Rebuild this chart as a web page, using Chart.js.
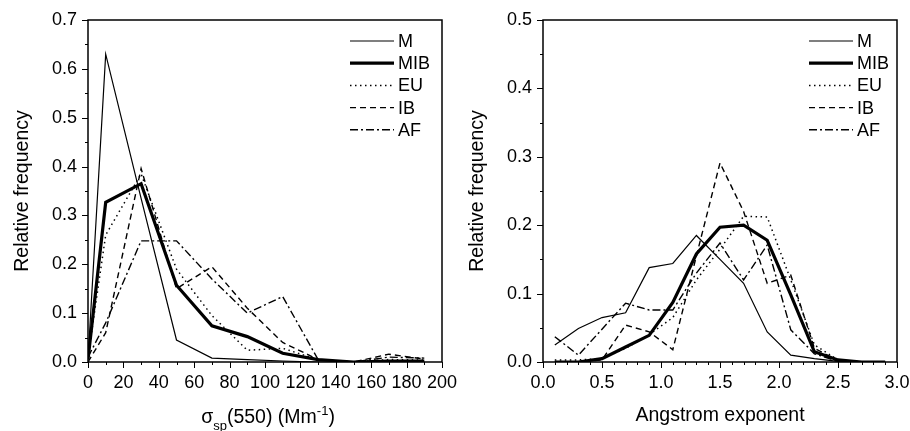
<!DOCTYPE html>
<html>
<head>
<meta charset="utf-8">
<script src="https://cdn.jsdelivr.net/npm/chart.js@4.4.1/dist/chart.umd.min.js"></script>
<style>
  html, body { margin: 0; padding: 0; background: #fff; }
  .wrap { position: relative; width: 910px; height: 431px; overflow: hidden; }
  #sigmaChart { position: absolute; left: 0; top: 0; }
  #angChart { position: absolute; left: 455px; top: 0; }
</style>
</head>
<body>
<div class="wrap">
  <canvas id="angChart" width="455" height="431"></canvas>
  <canvas id="sigmaChart" width="470" height="431"></canvas>
</div>
<script>
// Series names
const seriesNames = ['M', 'MIB', 'EU', 'IB', 'AF'];

// Left panel: scattering coefficient sigma_sp(550) bins (Mm-1)
const sigmaBins = [0, 10, 30, 50, 70, 90, 110, 130, 150, 170, 190];
const sigmaM   = [0.005, 0.63, 0.335, 0.045, 0.008, 0.005, 0.002, 0, 0, 0, 0];
const sigmaMIB = [0.005, 0.327, 0.365, 0.157, 0.074, 0.052, 0.018, 0.005, 0, 0.002, 0.002];
const sigmaEU  = [0.01, 0.26, 0.385, 0.19, 0.095, 0.024, 0.028, 0.005, 0, 0.005, 0.004];
const sigmaIB  = [0, 0.06, 0.396, 0.15, 0.195, 0.11, 0.04, 0.005, 0, 0.016, 0.006];
const sigmaAF  = [0.01, 0.08, 0.248, 0.248, 0.17, 0.1, 0.134, 0.005, 0, 0.01, 0.008];

// Right panel: Angstrom exponent bins
const angBins = [0.1, 0.3, 0.5, 0.7, 0.9, 1.1, 1.3, 1.5, 1.7, 1.9, 2.1, 2.3, 2.5, 2.7, 2.9];
const angM   = [0.025, 0.049, 0.065, 0.072, 0.138, 0.144, 0.185, 0.15, 0.115, 0.044, 0.01, 0.005, 0.001, 0, 0];
const angMIB = [0, 0, 0.005, 0.022, 0.039, 0.087, 0.158, 0.197, 0.2, 0.178, 0.098, 0.015, 0.003, 0, 0];
const angEU  = [0.003, 0.003, 0.005, 0.02, 0.04, 0.065, 0.12, 0.165, 0.213, 0.212, 0.12, 0.025, 0.003, 0, 0];
const angIB  = [0, 0, 0.003, 0.054, 0.044, 0.018, 0.155, 0.291, 0.22, 0.115, 0.127, 0.02, 0.002, 0, 0];
const angAF  = [0.037, 0.01, 0.048, 0.086, 0.076, 0.076, 0.13, 0.174, 0.12, 0.171, 0.047, 0.012, 0.001, 0, 0];

// Line styles per series
const lineStyles = {
    M:   { width: 1.2, dash: [] },
    MIB: { width: 3.2, dash: [] },
    EU:  { width: 1.5, dash: [1.5, 3.5] },
    IB:  { width: 1.4, dash: [6, 4] },
    AF:  { width: 1.4, dash: [8, 3, 2, 3] }
};

const FONT = 'Liberation Sans, Arial, sans-serif';
const TICK_SIZE = 18;
const TITLE_SIZE = 19.5;

function buildDatasets(xs, ys) {
    return seriesNames.map(function(name, i) {
        return {
            label: name,
            data: xs.map(function(x, j) { return { x: x, y: ys[i][j] }; }),
            borderColor: '#000',
            borderWidth: lineStyles[name].width,
            borderDash: lineStyles[name].dash,
            pointRadius: 0,
            tension: 0,
            fill: false
        };
    });
}

// Frame, tick marks and legend
const framePlugin = {
    id: 'frame',
    afterDatasetsDraw(chart, args, opts) {
        const ctx = chart.ctx;
        const a = chart.chartArea;
        const xs = chart.scales.x, ys = chart.scales.y;
        ctx.save();
        ctx.strokeStyle = '#000';
        ctx.lineWidth = 1.5;
        ctx.strokeRect(a.left, a.top, a.right - a.left, a.bottom - a.top);

        ctx.lineWidth = 1;
        ctx.beginPath();
        // x ticks
        for (let v = xs.min; v <= xs.max + 1e-9; v += opts.xMinor) {
            const px = Math.round(xs.getPixelForValue(v)) + 0.5;
            const major = Math.abs(v / opts.xMajor - Math.round(v / opts.xMajor)) < 1e-6;
            ctx.moveTo(px, a.bottom);
            ctx.lineTo(px, a.bottom + (major ? 6 : 3));
        }
        // y ticks
        for (let v = ys.min; v <= ys.max + 1e-9; v += opts.yMinor) {
            const py = Math.round(ys.getPixelForValue(v)) + 0.5;
            const major = Math.abs(v / opts.yMajor - Math.round(v / opts.yMajor)) < 1e-6;
            ctx.moveTo(a.left, py);
            ctx.lineTo(a.left - (major ? 6 : 3), py);
        }
        ctx.stroke();

        // legend
        ctx.font = TICK_SIZE + 'px ' + FONT;
        ctx.textBaseline = 'middle';
        ctx.fillStyle = '#000';
        chart.data.datasets.forEach(function(ds, i) {
            const y = opts.legendTop + i * 22.2;
            ctx.beginPath();
            ctx.lineWidth = ds.borderWidth;
            ctx.setLineDash(ds.borderDash);
            ctx.moveTo(opts.legendX - 48, y);
            ctx.lineTo(opts.legendX - 4, y);
            ctx.stroke();
            ctx.setLineDash([]);
            ctx.fillText(ds.label, opts.legendX, y + 1);
        });

        // custom x title with sub/superscripts
        if (opts.sigmaTitle) {
            const parts = [
                { t: '\u03C3', size: TITLE_SIZE, dy: 0 },
                { t: 'sp', size: 13, dy: 7 },
                { t: '(550) (Mm', size: TITLE_SIZE, dy: 0 },
                { t: '-1', size: 13, dy: -8 },
                { t: ')', size: TITLE_SIZE, dy: 0 }
            ];
            ctx.textBaseline = 'alphabetic';
            let total = 0;
            parts.forEach(function(p) {
                ctx.font = p.size + 'px ' + FONT;
                p.w = ctx.measureText(p.t).width;
                total += p.w;
            });
            let x = (a.left + a.right) / 2 - total / 2 + 3;
            parts.forEach(function(p) {
                ctx.font = p.size + 'px ' + FONT;
                ctx.fillText(p.t, x, 423 + p.dy);
                x += p.w;
            });
        }
        ctx.restore();
    }
};

function makeChart(id, xs, ys, cfg) {
    return new Chart(document.getElementById(id), {
        type: 'line',
        data: { datasets: buildDatasets(xs, ys) },
        options: {
            responsive: false,
            animation: false,
            events: [],
            layout: { autoPadding: false, padding: { top: 20, right: cfg.padRight, left: 0, bottom: 0 } },
            plugins: {
                legend: { display: false },
                tooltip: { enabled: false },
                frame: cfg.frame
            },
            scales: {
                x: {
                    type: 'linear',
                    min: cfg.xMin, max: cfg.xMax,
                    afterFit: function(s) {
                        s.height = 69;
                        s.paddingLeft = 0;
                        s.paddingRight = 0;
                    },
                    grid: { display: false, drawTicks: false },
                    border: { display: false },
                    ticks: {
                        stepSize: cfg.frame.xMajor,
                        autoSkip: false,
                        maxRotation: 0,
                        padding: 10,
                        color: '#000',
                        font: { family: FONT, size: TICK_SIZE },
                        callback: cfg.xFmt
                    },
                    title: {
                        display: cfg.xTitle !== '',
                        text: cfg.xTitle,
                        color: '#000',
                        font: { family: FONT, size: TITLE_SIZE },
                        padding: { top: 0, bottom: 3.5 }
                    }
                },
                y: {
                    min: 0, max: cfg.yMax,
                    afterFit: function(s) {
                        s.width = 88;
                        s.paddingTop = 0;
                        s.paddingBottom = 0;
                    },
                    grid: { display: false, drawTicks: false },
                    border: { display: false },
                    ticks: {
                        stepSize: 0.1,
                        autoSkip: false,
                        padding: 11,
                        color: '#000',
                        font: { family: FONT, size: TICK_SIZE },
                        callback: function(v) { return v.toFixed(1); }
                    },
                    title: {
                        display: true,
                        text: 'Relative frequency',
                        color: '#000',
                        font: { family: FONT, size: TITLE_SIZE },
                        padding: { top: 11, bottom: 0 }
                    }
                }
            }
        },
        plugins: [framePlugin]
    });
}

makeChart('sigmaChart', sigmaBins, [sigmaM, sigmaMIB, sigmaEU, sigmaIB, sigmaAF], {
    xMin: 0, xMax: 200, yMax: 0.7, padRight: 28,
    xTitle: '',
    xFmt: function(v) { return String(v); },
    frame: { xMinor: 10, xMajor: 20, yMinor: 0.05, yMajor: 0.1, legendX: 398, legendTop: 41, sigmaTitle: true }
});

makeChart('angChart', angBins, [angM, angMIB, angEU, angIB, angAF], {
    xMin: 0, xMax: 3, yMax: 0.5, padRight: 13,
    xTitle: 'Angstrom exponent',
    xFmt: function(v) { return v.toFixed(1); },
    frame: { xMinor: 0.1, xMajor: 0.5, yMinor: 0.05, yMajor: 0.1, legendX: 402, legendTop: 41, sigmaTitle: false }
});
</script>
</body>
</html>
